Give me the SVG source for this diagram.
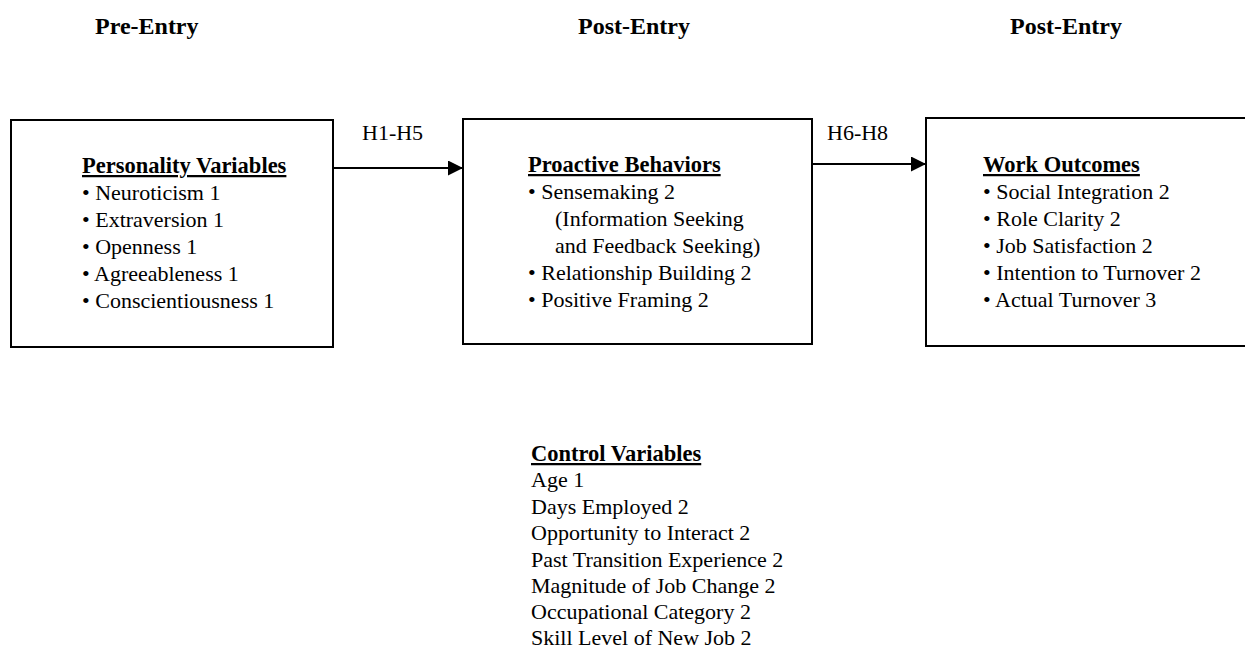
<svg xmlns="http://www.w3.org/2000/svg" width="1245" height="651" viewBox="0 0 1245 651">
<defs>
<style>
text{font-family:"Liberation Serif","Times New Roman",serif;fill:#000;}
.hd{font-size:24px;font-weight:bold;}
.t{font-size:22px;}
.b{font-size:22.5px;font-weight:bold;text-decoration:underline;}
.box{fill:#fff;stroke:#000;stroke-width:2;}
.conn{stroke:#000;stroke-width:2;fill:none;}
</style>
<marker id="ah" viewBox="0 0 10 10" refX="10" refY="5" markerWidth="16" markerHeight="15" markerUnits="userSpaceOnUse" orient="auto">
<path d="M0,0 L10,5 L0,10 z" fill="#000"/>
</marker>
</defs>
<rect width="1245" height="651" fill="#fff"/>
<g id="headings">
<text class="hd" x="95" y="34">Pre-Entry</text>
<text class="hd" x="578" y="34">Post-Entry</text>
<text class="hd" x="1010" y="34">Post-Entry</text>
</g>
<g id="connectors">
<line class="conn" x1="333" y1="168" x2="463" y2="168" marker-end="url(#ah)"/>
<line class="conn" x1="812" y1="164" x2="926" y2="164" marker-end="url(#ah)"/>
<text class="t" x="362" y="140">H1-H5</text>
<text class="t" x="827" y="140">H6-H8</text>
</g>
<g id="personality">
<rect class="box" x="11" y="120" width="322" height="227"/>
<text class="b" x="82" y="173">Personality Variables</text>
<text class="t" x="82" y="200">• Neuroticism 1</text>
<text class="t" x="82" y="227">• Extraversion 1</text>
<text class="t" x="82" y="254">• Openness 1</text>
<text class="t" x="82" y="281">• Agreeableness 1</text>
<text class="t" x="82" y="308">• Conscientiousness 1</text>
</g>
<g id="proactive">
<rect class="box" x="463" y="119" width="349" height="225"/>
<text class="b" x="528" y="172">Proactive Behaviors</text>
<text class="t" x="528" y="199">• Sensemaking 2</text>
<text class="t" x="555" y="226">(Information Seeking</text>
<text class="t" x="555" y="253">and Feedback Seeking)</text>
<text class="t" x="528" y="280">• Relationship Building 2</text>
<text class="t" x="528" y="307">• Positive Framing 2</text>
</g>
<g id="outcomes">
<rect class="box" x="926" y="118" width="330" height="228"/>
<text class="b" x="983" y="172">Work Outcomes</text>
<text class="t" x="983" y="199">• Social Integration 2</text>
<text class="t" x="983" y="226">• Role Clarity 2</text>
<text class="t" x="983" y="253">• Job Satisfaction 2</text>
<text class="t" x="983" y="280">• Intention to Turnover 2</text>
<text class="t" x="983" y="307">• Actual Turnover 3</text>
</g>
<g id="controls">
<text class="b" x="531" y="461">Control Variables</text>
<text class="t" x="531" y="487">Age 1</text>
<text class="t" x="531" y="514">Days Employed 2</text>
<text class="t" x="531" y="540">Opportunity to Interact 2</text>
<text class="t" x="531" y="567">Past Transition Experience 2</text>
<text class="t" x="531" y="593">Magnitude of Job Change 2</text>
<text class="t" x="531" y="619">Occupational Category 2</text>
<text class="t" x="531" y="645">Skill Level of New Job 2</text>
</g>
</svg>
